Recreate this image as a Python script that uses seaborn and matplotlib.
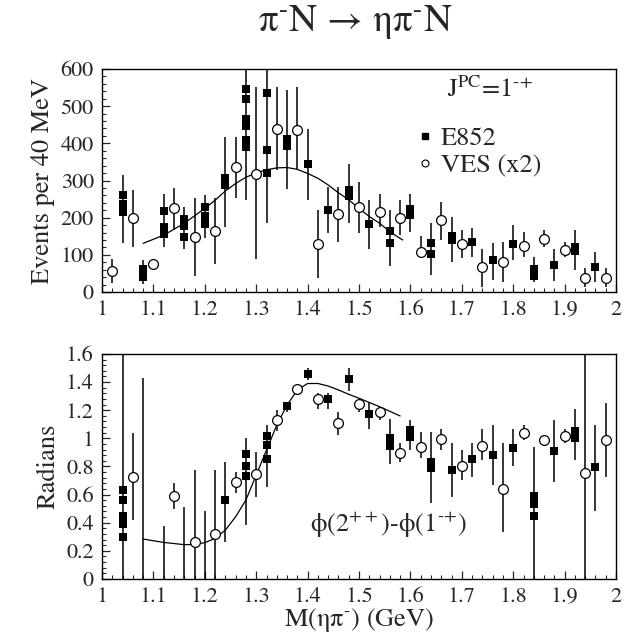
import numpy as np
import pandas as pd
import matplotlib
matplotlib.use("Agg")
import matplotlib.pyplot as plt
from matplotlib.ticker import MultipleLocator, FormatStrFormatter
from matplotlib.lines import Line2D
import seaborn as sns

# ---- top panel: events per 40 MeV ----
# E852 bins (filled squares); several solutions per bin are stacked
e852_top_mass = [1.04, 1.08, 1.12, 1.16, 1.20, 1.24, 1.28, 1.32, 1.36, 1.40,
                 1.44, 1.48, 1.52, 1.56, 1.60, 1.64, 1.68, 1.72, 1.76, 1.80,
                 1.84, 1.88, 1.92, 1.96]
e852_top_sol = [[261, 237, 214], [62, 41], [218, 176, 155], [196, 178, 149],
                [229, 205, 182], [308, 287], [546, 519, 465, 447, 409, 391],
                [535, 382, 319], [411, 393], [344], [221], [274, 259], [183],
                [165, 131], [224, 207], [133, 102], [150, 139], [134], [86],
                [129], [62, 43], [72], [121, 110], [66]]
e852_top_lo = [133, 22, 122, 117, 144, 176, 248, 185, 276, 248, 158, 186, 117,
               70, 162, 46, 82, 95, 32, 86, 28, 30, 59, 28]
e852_top_hi = [315, 86, 265, 230, 261, 418, 600, 600, 543, 438, 283, 344, 248,
               221, 265, 185, 203, 171, 131, 180, 95, 117, 167, 109]

# VES bins (open circles, x2)
ves_top_mass = [1.02, 1.06, 1.10, 1.14, 1.18, 1.22, 1.26, 1.30, 1.34, 1.38,
                1.42, 1.46, 1.50, 1.54, 1.58, 1.62, 1.66, 1.70, 1.74, 1.78,
                1.82, 1.86, 1.90, 1.94, 1.98]
ves_top_val = [57, 200, 75, 225, 149, 163, 337, 317, 439, 436, 130, 209, 230,
               216, 198, 109, 194, 128, 66, 82, 125, 143, 113, 37, 37]
ves_top_lo = [25, 122, 65, 167, 43, 75, 252, 88, 328, 328, 37, 135, 158, 176,
              153, 91, 140, 91, 14, 28, 95, 122, 95, 14, 14]
ves_top_hi = [88, 274, 85, 279, 252, 252, 416, 551, 551, 551, 221, 283, 297,
              265, 248, 152, 243, 167, 117, 135, 162, 167, 135, 64, 64]

# fitted curve
fit_top_mass = [1.08, 1.12, 1.16, 1.20, 1.22, 1.24, 1.26, 1.28, 1.30, 1.32,
                1.34, 1.36, 1.38, 1.40, 1.42, 1.44, 1.46, 1.48, 1.50, 1.52,
                1.54, 1.56, 1.585]
fit_top_val = [131, 153, 185, 225, 247, 272, 292, 309, 320, 329, 334, 335,
               330, 319, 306, 288, 267, 248, 225, 203, 185, 162, 140]

# ---- bottom panel: relative phase ----
e852_bot_mass = [1.04, 1.08, 1.12, 1.16, 1.20, 1.24, 1.28, 1.32, 1.36, 1.40,
                 1.44, 1.48, 1.52, 1.56, 1.60, 1.64, 1.68, 1.72, 1.76, 1.80,
                 1.84, 1.88, 1.92, 1.96]
e852_bot_sol = [[0.63, 0.56, 0.45, 0.39, 0.30], [], [], [], [], [0.56],
                [0.89, 0.80, 0.73], [1.02, 0.95, 0.85], [1.23], [1.455],
                [1.278], [1.42], [1.173], [1.00, 0.945], [1.06, 1.01],
                [0.83, 0.79], [0.775], [0.85], [0.88], [0.934],
                [0.59, 0.53, 0.45], [0.913], [1.05, 1.00], [0.794]]
e852_bot_lo = [0.0, 0.0, 0.0, 0.0, 0.0, 0.265, 0.384, 0.657, 1.19, 1.415,
               1.21, 1.34, 1.07, 0.82, 0.917, 0.538, 0.585, 0.728, 0.668, 0.80,
               0.0, 0.69, 0.846, 0.486]
e852_bot_hi = [1.6, 1.43, 0.38, 0.51, 0.48, 0.834, 1.0, 1.095, 1.26, 1.50,
               1.32, 1.50, 1.26, 1.14, 1.13, 1.048, 0.965, 0.965, 1.095, 1.07,
               0.94, 1.13, 1.206, 1.095]

ves_bot_mass = [1.06, 1.14, 1.18, 1.22, 1.26, 1.30, 1.34, 1.38, 1.42, 1.46,
                1.50, 1.54, 1.58, 1.62, 1.66, 1.70, 1.74, 1.78, 1.82, 1.86,
                1.90, 1.94, 1.98]
ves_bot_val = [0.728, 0.59, 0.265, 0.318, 0.69, 0.745, 1.13, 1.35, 1.28, 1.107,
               1.244, 1.19, 0.898, 0.94, 0.995, 0.80, 0.946, 0.64, 1.04, 0.988,
               1.017, 0.756, 0.988]
ves_bot_lo = [0.42, 0.50, 0.0, 0.0, 0.61, 0.585, 1.05, 1.32, 1.21, 1.024, 1.19,
              1.13, 0.834, 0.858, 0.917, 0.704, 0.846, 0.337, 0.988, 0.97,
              0.965, 0.0, 0.728]
ves_bot_hi = [1.036, 0.685, 0.775, 0.775, 0.76, 0.905, 1.20, 1.38, 1.32, 1.19,
              1.27, 1.225, 0.965, 1.048, 1.07, 0.917, 1.07, 0.965, 1.095, 1.01,
              1.07, 1.6, 1.25]

fit_bot_mass = [1.08, 1.12, 1.16, 1.18, 1.20, 1.22, 1.24, 1.26, 1.28, 1.30,
                1.32, 1.34, 1.36, 1.38, 1.40, 1.42, 1.44, 1.46, 1.48, 1.50,
                1.54, 1.58]
fit_bot_val = [0.284, 0.26, 0.244, 0.246, 0.258, 0.289, 0.348, 0.443, 0.562,
               0.74, 0.917, 1.095, 1.237, 1.344, 1.39, 1.39, 1.372, 1.344,
               1.313, 1.285, 1.225, 1.159]

sns.set_theme(style="ticks")
# STIX ships with matplotlib and looks like the Times used in the paper
plt.rcParams["font.family"] = ["STIXGeneral", "DejaVu Serif"]
plt.rcParams["mathtext.fontset"] = "stix"
plt.rcParams["axes.linewidth"] = 1.0
plt.rcParams["xtick.direction"] = "in"
plt.rcParams["ytick.direction"] = "in"


def explode(mass, sols):
    # one row per plotted square
    rows = [(m, v) for m, s in zip(mass, sols) for v in s]
    return pd.DataFrame(rows, columns=["mass", "val"])


def draw_panel(ax, e_mass, e_sol, e_lo, e_hi, v_mass, v_val, v_lo, v_hi,
               f_mass, f_val):
    ax.vlines(e_mass, e_lo, e_hi, color="black", lw=1.1, zorder=2)
    ax.vlines(v_mass, v_lo, v_hi, color="black", lw=1.1, zorder=2)
    sns.lineplot(x=f_mass, y=f_val, ax=ax, color="black", lw=0.9,
                 zorder=3, sort=False)
    e_df = explode(e_mass, e_sol)
    sns.scatterplot(data=e_df, x="mass", y="val", ax=ax, marker="s", s=36,
                    color="black", edgecolor="black", linewidth=0, zorder=4)
    v_df = pd.DataFrame({"mass": v_mass, "val": v_val})
    sns.scatterplot(data=v_df, x="mass", y="val", ax=ax, marker="o", s=50,
                    facecolor="white", edgecolor="black", linewidth=0.9,
                    zorder=5)
    ax.set_xlim(1, 2)
    ax.xaxis.set_major_locator(MultipleLocator(0.1))
    ax.xaxis.set_minor_locator(MultipleLocator(0.02))
    ax.xaxis.set_major_formatter(FormatStrFormatter("%g"))
    ax.yaxis.set_major_formatter(FormatStrFormatter("%g"))
    ax.tick_params(which="major", length=6, width=0.9, labelsize=16,
                   top=False, right=False, pad=6)
    ax.tick_params(which="minor", length=3, width=0.8, top=False, right=False)
    for sp in ax.spines.values():
        sp.set_visible(True)
        sp.set_color("black")
    ax.set_xlabel("")
    ax.set_ylabel("")


fig = plt.figure(figsize=(6.31, 6.38), dpi=100)
ax1 = fig.add_axes([0.1617, 0.5423, 0.8146, 0.3495])
ax2 = fig.add_axes([0.1617, 0.0925, 0.8146, 0.3527])

draw_panel(ax1, e852_top_mass, e852_top_sol, e852_top_lo, e852_top_hi,
           ves_top_mass, ves_top_val, ves_top_lo, ves_top_hi,
           fit_top_mass, fit_top_val)
ax1.set_ylim(0, 600)
ax1.yaxis.set_major_locator(MultipleLocator(100))
ax1.yaxis.set_minor_locator(MultipleLocator(20))
ax1.set_ylabel("Events per 40 MeV", fontsize=19, labelpad=4)

draw_panel(ax2, e852_bot_mass, e852_bot_sol, e852_bot_lo, e852_bot_hi,
           ves_bot_mass, ves_bot_val, ves_bot_lo, ves_bot_hi,
           fit_bot_mass, fit_bot_val)
ax2.set_ylim(0, 1.6)
ax2.yaxis.set_major_locator(MultipleLocator(0.2))
ax2.yaxis.set_minor_locator(MultipleLocator(0.04))
ax2.set_ylabel("Radians", fontsize=19, labelpad=4)
ax2.set_xlabel("M(ηπ$^{\\text{-}}$) (GeV)", fontsize=19, labelpad=-1)

# legend block in the top panel
ax1.text(0.672, 0.905, "J$^{\\rm PC}$=1$^{\\text{-+}}$", transform=ax1.transAxes,
         fontsize=19, ha="left", va="center")
handles = [Line2D([], [], marker="s", ls="", color="black", markersize=4.5),
           Line2D([], [], marker="o", ls="", markerfacecolor="white",
                  markeredgecolor="black", markersize=5, markeredgewidth=0.8)]
ax1.legend(handles, ["E852", "VES (x2)"], loc="upper left",
           bbox_to_anchor=(0.592, 0.79), frameon=False, fontsize=19,
           handlelength=0.6, handletextpad=0.3, labelspacing=0.1,
           borderaxespad=0)

ax2.text(0.405, 0.24, "ϕ(2$^{++}$)-ϕ(1$^{\\text{-+}}$)",
         transform=ax2.transAxes, fontsize=19, ha="left", va="center")

fig.text(0.563, 0.965, "π$^{\\text{-}}$N → ηπ$^{\\text{-}}$N",
         fontsize=28, ha="center", va="center")

fig.savefig("out.png", dpi=100, facecolor="white")
